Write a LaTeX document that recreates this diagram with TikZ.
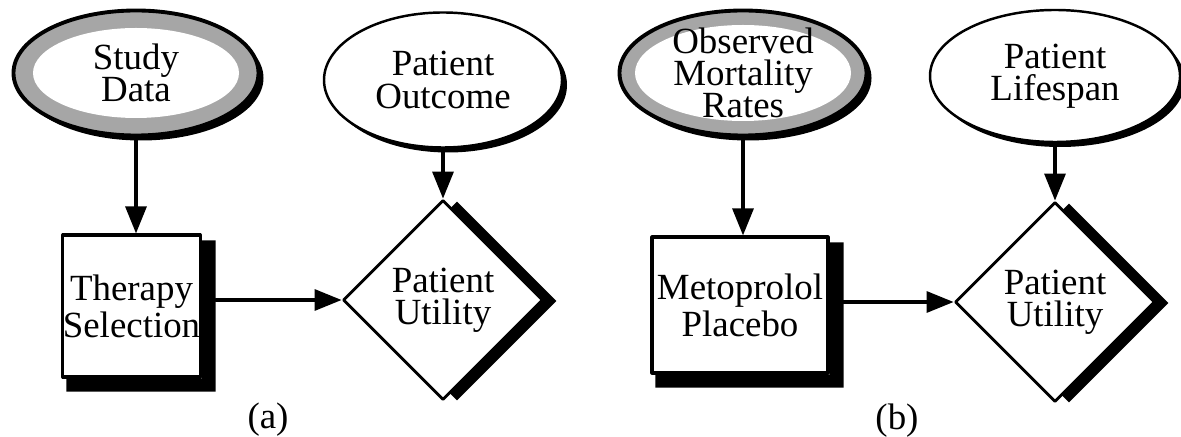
\documentclass[tikz,border=0pt]{standalone}
\usepackage{fontspec}
\setmainfont{Liberation Serif}
\usetikzlibrary{arrows.meta, shapes.geometric, shadows}
\newcommand{\diagfont}{\fontsize{10.5pt}{9.2pt}\selectfont}
\tikzset{
  >={Triangle[length=2.7mm, width=2.1mm]},
  every picture/.style={line cap=round, line join=round, font=\diagfont},
  flow/.style={->, line width=0.9pt},
  caption/.style={inner sep=0pt},
  % plain chance node: thin outline, heavy lower-right edge
  chance/.style={ellipse, draw, line width=0.7pt, fill=white, inner sep=0pt,
    drop shadow={shadow xshift=0.05cm, shadow yshift=-0.05cm, fill=black, opacity=1}},
  % observed chance node: stippled ring
  observed/.style={ellipse, draw, line width=1.1pt, fill=black!35, inner sep=0pt,
    drop shadow={shadow xshift=0.05cm, shadow yshift=-0.05cm, fill=black, opacity=1},
    path picture={\fill[white] (path picture bounding box.center) ellipse (#1);}},
  decision/.style={rectangle, draw, line width=0.9pt, fill=white, inner sep=0pt, align=center},
  utility/.style={diamond, draw, line width=0.8pt, fill=white, inner sep=0pt, aspect=1,
    minimum width=2cm, minimum height=2cm, align=center,
    drop shadow={shadow xshift=0.14cm, shadow yshift=-0.01cm, fill=black, opacity=1}},
}

\begin{document}
\begin{tikzpicture}
  \useasboundingbox (0,0) rectangle (11.81,4.36);
  % ---- panel (a)
  \node[observed={1.03cm and 0.45cm}, minimum width=2.45cm, minimum height=1.25cm,
        label={[align=center]center:Study\\Data}] (study) at (1.36,3.63) {};
  \node[chance, minimum width=2.38cm, minimum height=1.35cm,
        label={[align=center]center:Patient\\Outcome}] (outcome) at (4.43,3.56) {};
  \node[decision, minimum width=1.37cm, minimum height=1.42cm] (tsel) at (1.315,1.30) {Therapy\\Selection};
  \node[utility] (utilA) at (4.43,1.36) {Patient\\Utility};
  \node[caption] (capA) at (2.68,0.16) {(a)};
  % ---- panel (b)
  \node[observed={1.08cm and 0.48cm}, minimum width=2.47cm, minimum height=1.25cm,
        label={[align=center]center:Observed\\Mortality\\Rates}] (obs) at (7.43,3.63) {};
  \node[chance, minimum width=2.5cm, minimum height=1.32cm,
        label={[align=center]center:Patient\\Lifespan}] (life) at (10.55,3.60) {};
  \node[decision, minimum width=1.76cm, minimum height=1.36cm] (drug) at (7.40,1.31) {Metoprolol\\Placebo};
  \node[utility] (utilB) at (10.55,1.34) {Patient\\Utility};
  \node[caption] (capB) at (8.97,0.15) {(b)};
  % ---- heavy edges of the decision boxes
  \foreach \b in {tsel, drug}
    \fill ([yshift=-0.07cm]\b.north east) -- ++(0.14,0) |- ([xshift=0.05cm, yshift=-0.13cm]\b.south west)
      |- (\b.south east) -- cycle;
  % ---- arcs
  \draw[flow] (study.south) -- (study.south |- tsel.north);
  \draw[flow] (outcome.south) -- (utilA.north);
  \draw[flow] ([xshift=0.14cm]tsel.east |- utilA.west) -- (utilA.west);
  \draw[flow] (obs.south) -- (obs.south |- drug.north);
  \draw[flow] (life.south) -- (utilB.north);
  \draw[flow] ([xshift=0.14cm]drug.east |- utilB.west) -- (utilB.west);
\end{tikzpicture}
\end{document}
